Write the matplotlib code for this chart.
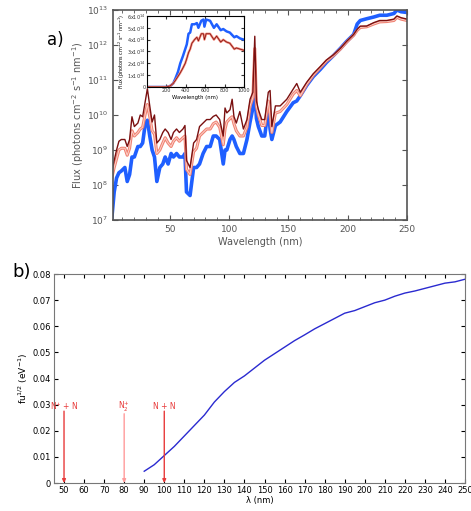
import numpy as np
import matplotlib
matplotlib.use("Agg")
import matplotlib.pyplot as plt

# ---- panel a: solar flux (log10 of photons cm-2 s-1 nm-1) ----
wl = [1, 3, 5, 7, 9, 12, 14, 16, 18, 20, 23, 25, 27, 29, 31, 33, 35, 37, 39,
      41.5, 44, 46, 48.5, 51, 53, 55.6, 58, 61, 62.7, 64, 67, 70, 72.5, 75, 78,
      81, 84, 86.6, 89, 92, 95, 96.5, 98, 100.7, 102.5, 104, 106, 109, 112,
      115, 117.6, 120, 121.6, 123, 124.6, 127.5, 130, 133, 134.5, 136, 139,
      143, 148.6, 154, 157, 160, 165.5, 171, 176.8, 182, 188, 193.7, 199, 205,
      208, 210.6, 216, 222, 227, 233, 239, 241.5, 245, 250]
flux_blue = [7.05, 7.8, 8.2, 8.35, 8.4, 8.5, 8.1, 8.3, 8.8, 8.8, 9.1, 9.1, 9.2,
             9.7, 9.85, 9.4, 9.0, 8.8, 8.1, 8.5, 8.6, 8.8, 8.6, 8.9, 8.8, 8.9,
             8.8, 8.8, 8.9, 7.8, 7.7, 8.5, 8.5, 8.6, 8.9, 9.1, 9.1, 9.4, 9.4,
             9.3, 8.6, 9.0, 9.0, 9.3, 9.4, 9.3, 9.1, 8.9, 8.9, 9.3, 9.8, 10.2,
             10.74, 9.9, 9.67, 9.4, 9.4, 10.2, 9.6, 9.3, 9.7, 9.8, 10.1, 10.35,
             10.4, 10.55, 10.85, 11.1, 11.3, 11.5, 11.7, 11.9, 12.1, 12.3, 12.6,
             12.7, 12.75, 12.8, 12.85, 12.85, 12.9, 13.0, 12.95, 12.93]
flux_red = [8.2, 8.5, 8.75, 9.0, 9.05, 9.05, 8.85, 9.05, 9.55, 9.4, 9.5, 9.6,
            9.65, 10.0, 10.3, 9.95, 9.55, 9.45, 8.9, 9.0, 9.2, 9.35, 9.2, 9.1,
            9.25, 9.35, 9.25, 9.35, 9.4, 8.45, 8.3, 8.95, 9.05, 9.4, 9.5, 9.6,
            9.6, 9.75, 9.8, 9.65, 9.15, 9.6, 9.8, 9.9, 9.95, 9.75, 9.55, 9.4,
            9.4, 9.65, 10.25, 10.5, 11.9, 10.25, 10.0, 9.7, 9.7, 10.4, 10.0, 9.5,
            10.05, 10.1, 10.3, 10.6, 10.7, 10.55, 10.88, 11.14, 11.35, 11.54,
            11.7, 11.88, 12.08, 12.28, 12.42, 12.5, 12.52, 12.6, 12.66, 12.67,
            12.7, 12.79, 12.74, 12.7]
flux_dark = [8.4, 8.7, 9.0, 9.25, 9.3, 9.3, 9.1, 9.3, 9.95, 9.67, 9.77, 10.0,
             9.95, 10.35, 10.75, 10.26, 9.8, 10.0, 9.2, 9.3, 9.5, 9.6, 9.5, 9.3,
             9.5, 9.6, 9.5, 9.6, 9.7, 8.7, 8.5, 9.2, 9.3, 9.67, 9.77, 9.87,
             9.87, 9.96, 10.0, 9.87, 9.4, 10.2, 10.06, 10.15, 10.45, 9.96, 9.77,
             10.1, 9.6, 9.87, 10.45, 10.65, 12.25, 10.4, 10.16, 9.87, 9.87,
             10.65, 10.7, 9.67, 10.26, 10.26, 10.45, 10.74, 10.9, 10.65, 10.94,
             11.18, 11.38, 11.57, 11.72, 11.9, 12.1, 12.3, 12.45, 12.54, 12.54,
             12.64, 12.7, 12.7, 12.74, 12.83, 12.78, 12.74]

# ---- inset: visible flux (units of 1e14) ----
wl_vis = [0, 100, 200, 241, 270, 292, 320, 343, 370, 394, 410, 428, 445, 463,
          490, 514, 530, 560, 582, 592, 610, 650, 690, 718, 760, 786, 820,
          854, 900, 922, 960, 1000]
vis_blue = [0, 0, 0, 0.1, 0.3, 0.7, 1.3, 2.0, 2.6, 3.2, 3.6, 4.5, 4.6, 5.3,
            5.3, 5.4, 5.0, 5.6, 5.7, 5.1, 5.7, 5.6, 5.0, 5.3, 4.8, 4.9, 4.7,
            4.6, 4.2, 4.3, 4.1, 4.0]
vis_red = [0, 0, 0, 0.1, 0.3, 0.55, 0.9, 1.2, 1.6, 2.0, 2.4, 2.9, 3.2, 3.7,
           4.0, 4.2, 3.9, 4.5, 4.5, 4.0, 4.5, 4.5, 4.0, 4.3, 3.8, 4.0, 3.8,
           3.7, 3.2, 3.3, 3.2, 3.1]

# ---- panel b: fu^(1/2) vs wavelength ----
lam_b = [90, 95, 100, 105, 110, 115, 120, 125, 130, 135, 140, 145, 150, 155,
         160, 165, 170, 175, 180, 185, 190, 195, 200, 205, 210, 215, 220, 225,
         230, 235, 240, 245, 250]
fu_b = [0.0045, 0.007, 0.0105, 0.014, 0.018, 0.022, 0.026, 0.031, 0.035,
        0.0385, 0.041, 0.044, 0.047, 0.0495, 0.052, 0.0545, 0.0567, 0.059,
        0.061, 0.063, 0.065, 0.066, 0.0675, 0.069, 0.070, 0.0715, 0.0727,
        0.0735, 0.0745, 0.0755, 0.0765, 0.077, 0.078]
thresh_lam = [50, 80, 100]
thresh_top = [0.0275, 0.0265, 0.0275]
thresh_lbl = ["N$^{+}$ + N", "N$_2^{+}$", "N + N"]

W, H = 471, 511
fig = plt.figure(figsize=(W / 100, H / 100), dpi=100)
grey = "#555555"

# ---- a) ----
ax = fig.add_axes([113 / W, 1 - 220 / H, 294 / W, 210 / H])
wl_a = np.array(wl)
ax.plot(wl_a, 10 ** np.array(flux_blue), color="#1f5fff", lw=2.6)
ax.plot(wl_a, 10 ** np.array(flux_red), color="#f08070", lw=2.2)
ax.plot(wl_a, 10 ** np.array(flux_red), color="#fbd0c8", lw=0.7)
ax.plot(wl_a, 10 ** np.array(flux_dark), color="#7a1010", lw=1.0)
ax.set_yscale("log")
ax.set_xlim(2, 250)
ax.set_ylim(1e7, 1e13)
ax.set_xticks([50, 100, 150, 200, 250])
ax.set_xticks(np.arange(10, 251, 10), minor=True)
ax.tick_params(which="both", direction="in", top=True, right=True, colors=grey,
               labelsize=6.5, labelcolor=grey)
ax.tick_params(axis="y", which="minor", length=0)
ax.set_xlabel("Wavelength (nm)", fontsize=7, color=grey, labelpad=2)
ax.set_ylabel("Flux (photons cm$^{-2}$ s$^{-1}$ nm$^{-1}$)", fontsize=7,
              color=grey, labelpad=1)
for s in ax.spines.values():
    s.set_color(grey)
    s.set_linewidth(1.2)
fig.text(55 / W, 1 - 40 / H, "a)", fontsize=12, ha="center", va="center")

# inset
ai = fig.add_axes([147 / W, 1 - 87 / H, 97 / W, 71 / H])
ai.plot(wl_vis, np.array(vis_blue) * 1e14, color="#1f5fff", lw=1.8)
ai.plot(wl_vis, np.array(vis_red) * 1e14, color="#f08070", lw=1.6)
ai.plot(wl_vis, np.array(vis_red) * 1e14, color="#7a1010", lw=0.5)
ai.set_xlim(0, 1000)
ai.set_ylim(0, 6e14)
ai.set_xticks([200, 400, 600, 800, 1000])
ai.set_yticks(np.arange(0, 7e14, 1e14))
ai.set_yticklabels(["0"] + ["%dx10$^{14}$" % k for k in range(1, 7)])
ai.tick_params(direction="in", top=True, right=True, labelsize=3.5, length=2,
               pad=1, colors="#333333")
ai.set_xlabel("Wavelength (nm)", fontsize=3.8, labelpad=1)
ai.set_ylabel("Flux (photons cm$^{-2}$ s$^{-1}$ nm$^{-1}$)", fontsize=3.5, labelpad=0.5)

# ---- b) ----
bx = fig.add_axes([54 / W, 1 - 483 / H, 411 / W, 209 / H])
bx.plot(lam_b, fu_b, color="#2a2ad0", lw=1.0)
for x, top, lbl in zip(thresh_lam, thresh_top, thresh_lbl):
    c = "#ff9a9a" if x == 80 else "#e83a3a"
    bx.annotate("", xy=(x, 0), xytext=(x, top),
                arrowprops=dict(arrowstyle="-|>", color=c, lw=1.0,
                                mutation_scale=5, shrinkA=0, shrinkB=0))
    bx.text(x, 0.0293, lbl, color="#e83a3a", fontsize=5.5, ha="center", va="center")
bx.set_xlim(45, 250)
bx.set_ylim(0, 0.08)
bx.set_xticks(np.arange(50, 251, 10))
bx.set_yticks(np.arange(0, 0.081, 0.01))
bx.set_yticklabels(["0"] + ["%.2f" % v for v in np.arange(0.01, 0.081, 0.01)])
bx.tick_params(direction="in", top=True, right=True, labelsize=6, length=3, pad=2)
bx.set_xlabel("λ (nm)", fontsize=6, labelpad=1)
bx.set_ylabel("fu$^{1/2}$ (eV$^{-1}$)", fontsize=6.5, labelpad=2)
for s in bx.spines.values():
    s.set_color("#777777")
fig.text(12 / W, 1 - 272 / H, "b)", fontsize=13, ha="left", va="center")

fig.savefig("out.png", dpi=100)
